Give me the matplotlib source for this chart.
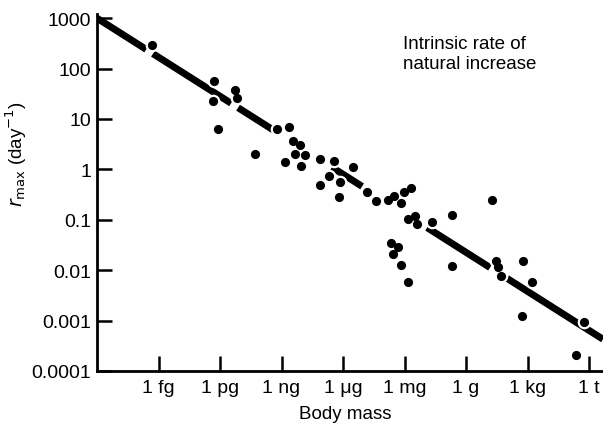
import numpy as np
import matplotlib
matplotlib.use("Agg")
import matplotlib.pyplot as plt

plt.rcParams["font.family"] = ["Liberation Sans", "DejaVu Sans"]
plt.rcParams["mathtext.fontset"] = "dejavusans"

# body mass (log10 grams) and r_max (log10 per day)
log_mass = [
    -15.32, -12.29, -12.34, -11.27, -11.17, -12.10, -10.29,
    -9.22, -8.63, -8.44, -8.10, -8.34, -7.85, -8.83, -8.05,
    -7.12, -6.44, -5.51, -6.68, -6.15, -7.12, -6.20,
    -4.83, -4.39, -3.80, -3.51, -3.17, -3.02, -2.68,
    -2.83, -2.49, -2.39, -1.66, -0.68,
    -3.66, -3.32, -3.56, -3.17, -2.83, -0.68,
    1.27, 1.46, 1.56, 1.71, 2.78, 3.22, 2.73, 5.76, 5.37,
]
log_rate = [
    2.47, 1.75, 1.36, 1.58, 1.42, 0.80, 0.30,
    0.80, 0.84, 0.56, 0.48, 0.31, 0.29, 0.15, 0.07,
    0.21, 0.17, 0.05, -0.13, -0.25, -0.31, -0.55,
    -0.45, -0.63, -0.61, -0.53, -0.67, -0.45, -0.37,
    -0.98, -0.92, -1.08, -1.04, -0.90,
    -1.46, -1.54, -1.68, -1.90, -2.23, -1.92,
    -0.61, -1.82, -1.94, -2.12, -1.82, -2.23, -2.91, -3.03, -3.68,
]

# fitted line: end points (log10 mass, log10 rate) and the drawn pieces
fit_ends_mass = [-18.0, 6.68]
fit_ends_rate = [3.0, -3.37]
fit_pieces = [(-18.0, -15.6), (-15.27, -11.46), (-11.12, -9.41),
              (-6.54, -5.07), (-1.90, 1.17), (2.0, 6.68)]

tick_mass = [-15, -12, -9, -6, -3, 0, 3, 6]
tick_names = ["1 fg", "1 pg", "1 ng", "1 \u03bcg", "1 mg", "1 g", "1 kg", "1 t"]
rate_ticks = [-4, -3, -2, -1, 0, 1, 2, 3]
rate_names = ["0.0001", "0.001", "0.01", "0.1", "1", "10", "100", "1000"]

fig = plt.figure(figsize=(6.03, 4.27), dpi=100)
ax = fig.add_axes([97 / 603, 55 / 427, 506 / 603, 357 / 427])

mass = 10.0 ** np.array(log_mass)
rate = 10.0 ** np.array(log_rate)

for a, b in fit_pieces:
    ya = np.interp(a, fit_ends_mass, fit_ends_rate)
    yb = np.interp(b, fit_ends_mass, fit_ends_rate)
    ax.plot([10.0 ** a, 10.0 ** b], [10.0 ** ya, 10.0 ** yb],
            color="black", lw=5, solid_capstyle="butt", zorder=2)

# white halo then black dots
ax.plot(mass, rate, "o", ms=9.8, color="white", mec="none", zorder=3)
ax.plot(mass, rate, "o", ms=6.6, color="black", mec="none", zorder=4)

ax.set_xscale("log")
ax.set_yscale("log")
ax.set_xlim(1e-18, 10 ** 6.68)
ax.set_ylim(1e-4, 10 ** 3.083)

ax.set_xticks([10.0 ** v for v in tick_mass])
ax.set_xticklabels(tick_names)
ax.set_yticks([10.0 ** v for v in rate_ticks])
ax.set_yticklabels(rate_names)
ax.minorticks_off()
ax.tick_params(direction="in", length=11, width=1.8, labelsize=14)
ax.tick_params(axis="x", pad=6)
ax.tick_params(axis="y", pad=4)

for s in ["top", "right"]:
    ax.spines[s].set_visible(False)
for s in ["left", "bottom"]:
    ax.spines[s].set_linewidth(2)

ax.set_xlabel("Body mass", fontsize=13.5)
ax.xaxis.set_label_coords(0.49, -0.095)
ax.set_ylabel(r"$r_{\mathrm{max}}$ (day$^{-1}$)", fontsize=13.5)
ax.yaxis.set_label_coords(-0.135, 0.61)

ax.text(0.605, 0.94, "Intrinsic rate of\nnatural increase", transform=ax.transAxes,
        fontsize=13.5, va="top", ha="left", linespacing=1.2)

fig.savefig("out.png", dpi=100)
